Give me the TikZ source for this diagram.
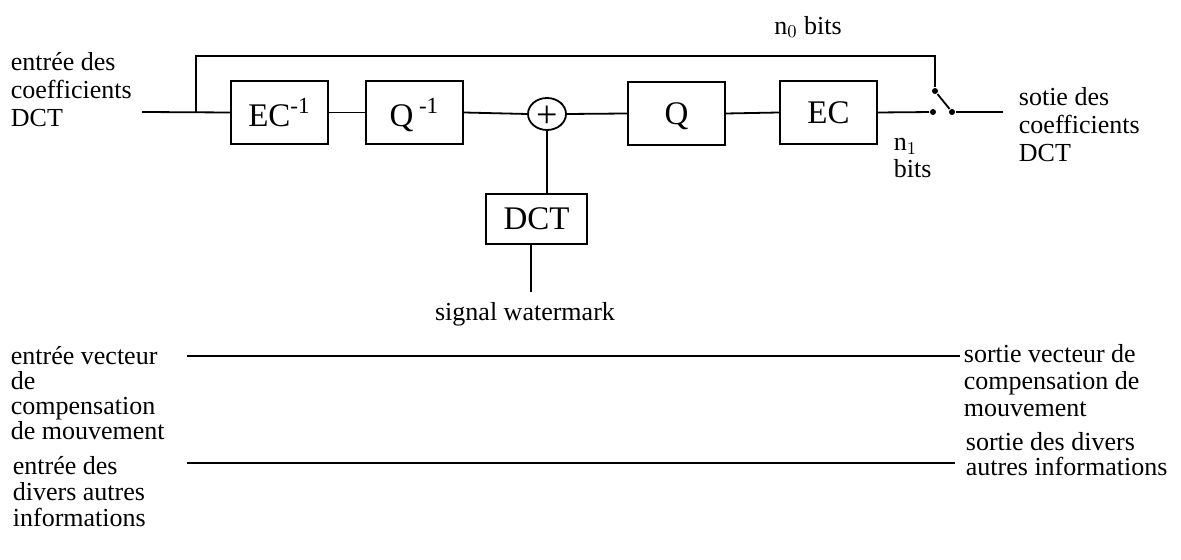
\documentclass[tikz,border=0pt]{standalone}
\usepackage{fontspec}
\setmainfont{Liberation Serif}
\usetikzlibrary{shapes.geometric}
\begin{document}
\begin{tikzpicture}[x=0.5pt,y=-0.5pt,line width=0.9pt,
  blk/.style={draw,line width=0.8pt,minimum width=48.5pt,minimum height=31.5pt,inner sep=0pt,font=\fontsize{16.5}{16.5}\selectfont},
  lbl/.style={inner sep=0pt,align=left,anchor=west,font=\fontsize{13}{14}\selectfont},
  dot/.style={circle,fill,inner sep=0pt,minimum size=3pt}]
\useasboundingbox (0,0) rectangle (1181,560);
% main chain
\node[blk] (ec1) at (279.5,112.5) {EC\textsuperscript{-1}};
\node[blk,text depth=0pt] (q1) at (414.5,112.5) {Q\,\textsuperscript{-1}};
\node[draw,ellipse,line width=0.9pt,minimum width=19pt,minimum height=16pt,inner sep=0pt] (plus) at (547,114) {};
\node[font=\fontsize{19}{19}\selectfont,inner sep=0pt,yshift=-1.5pt] (plussign) at (plus.center) {+};
\node[blk,text depth=0pt] (q) at (676.5,113.5) {Q};
\node[blk] (ec) at (828.5,112.5) {EC};
\node[blk,minimum width=50.5pt,minimum height=25pt] (dct) at (536.5,219) {DCT};
% switch
\node[dot] (swT) at (935,91) {};
\node[dot] (swA) at (933,112) {};
\node[dot] (swB) at (952,112) {};
\coordinate (in) at (142,112);
\coordinate (br) at (196,112);
\coordinate (out) at (1003,112);
\coordinate (wm) at (531,292);
% labels
\node[lbl] (lin) at (10,90) {entrée des\\coefficients\\DCT};
\node[lbl] (lout) at (1018,125) {sotie des\\coefficients\\DCT};
\node[inner sep=0pt,font=\fontsize{13}{14}\selectfont] (n0) at (808,27) {n$_0$ bits};
\node[lbl,font=\fontsize{13}{13.5}\selectfont] (n1) at (893,158) {n$_1$\\bits};
\node[inner sep=0pt,font=\fontsize{13}{14}\selectfont] (wml) at (525,314) {signal watermark};
% connectors
\draw (in) -- (ec1.west);
\draw (ec1.east) -- (q1.west);
\draw (q1.east) -- (plus.west);
\draw (plus.east) -- (q.west);
\draw (q.east) -- (ec.west);
\draw (ec.east) -- (swA);
\draw (swT) -- (swB);
\draw (swB) -- (out);
\draw (br) -- (196,56) -- (swT |- 0,56) -- (swT);
\draw (plus.south) -- (plus.south |- dct.north);
\draw (dct.south -| wm) -- (wm);
% lower section
\node[lbl,font=\fontsize{13}{12.4}\selectfont] (lv) at (10,393) {entrée vecteur\\de\\compensation\\de mouvement};
\node[lbl,font=\fontsize{13}{13}\selectfont] (ld) at (12,492) {entrée des\\divers autres\\informations};
\node[lbl,font=\fontsize{13}{13.5}\selectfont] (rv) at (963,381) {sortie vecteur de\\compensation de\\mouvement};
\node[lbl,font=\fontsize{13}{12.4}\selectfont] (rd) at (965,454) {sortie des divers\\autres informations};
\coordinate (v1) at (187,356);
\coordinate (v2) at (960,356);
\coordinate (d1) at (187,463);
\coordinate (d2) at (955,463);
\draw (v1) -- (v2);
\draw (d1) -- (d2);
\end{tikzpicture}
\end{document}
